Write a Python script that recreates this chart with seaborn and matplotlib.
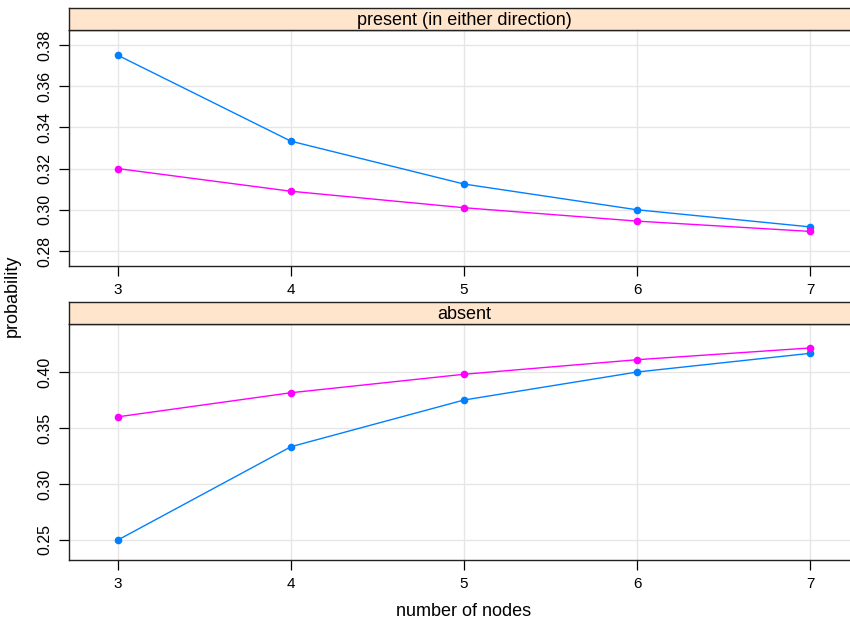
import numpy as np
import pandas as pd
import matplotlib
matplotlib.use("Agg")
import matplotlib.pyplot as plt
import seaborn as sns

sns.set_theme(style="white", rc={
    'xtick.bottom': True, 'ytick.left': True,
    'xtick.major.size': 7, 'ytick.major.size': 7,
    'xtick.major.width': 0.9, 'ytick.major.width': 0.9,
    'xtick.color': 'black', 'ytick.color': 'black',
    'text.color': 'black', 'axes.labelcolor': 'black',
})
plt.rcParams['font.family'] = ['Liberation Sans', 'DejaVu Sans']

# data
nodes = [3, 4, 5, 6, 7]
present_blue = [0.375, 0.3333, 0.3125, 0.300, 0.2917]
present_pink = [0.320, 0.309, 0.301, 0.2945, 0.2895]
absent_blue = [0.250, 0.3333, 0.375, 0.400, 0.4167]
absent_pink = [0.360, 0.3815, 0.398, 0.411, 0.4215]
series_names = ["A", "B"]
panel_titles = ["present (in either direction)", "absent"]

BLUE = "#0080ff"
PINK = "#ff00ff"
STRIP = "#ffe5cc"

def long_df(blue, pink):
    return pd.DataFrame({
        'nodes': nodes * 2,
        'probability': blue + pink,
        'series': [series_names[0]] * len(nodes) + [series_names[1]] * len(nodes),
    })

panels = [
    (long_df(present_blue, present_pink), (0.2727, 0.3873), [0.28, 0.30, 0.32, 0.34, 0.36, 0.38],
     ['0.28', '0.30', '0.32', '0.34', '0.36', '0.38']),
    (long_df(absent_blue, absent_pink), (0.2321, 0.4429), [0.25, 0.30, 0.35, 0.40],
     ['0.25', '0.30', '0.35', '0.40']),
]

fig = plt.figure(figsize=(8.5, 6.28), dpi=100)
W, H = 850, 628
left = 69 / W
width = 790 / W  # right edge runs past the figure, as in the reference
panel_px = [(30, 266, 8), (324, 560, 302)]

for (df, ylim, yticks, ylabels), title, (ptop, pbot, stop) in zip(panels, panel_titles, panel_px):
    ax = fig.add_axes([left, 1 - pbot / H, width, (pbot - ptop) / H])
    ax.grid(True, color="#e6e6e6", lw=1.0)
    ax.set_axisbelow(True)
    sns.lineplot(data=df, x='nodes', y='probability', hue='series',
                 palette=[BLUE, PINK], marker='o', markersize=5.5,
                 markeredgewidth=0, lw=1.0, legend=False, ax=ax)
    ax.set_xlim(2.717, 7.283)
    ax.set_ylim(*ylim)
    ax.set_xticks(nodes)
    ax.set_xticklabels([str(n) for n in nodes], fontsize=11)
    ax.set_yticks(yticks)
    ax.set_yticklabels(ylabels, fontsize=11.5, rotation=90, va='center')
    ax.tick_params(axis='both', which='major', direction='out', length=7,
                   width=0.9, color='black', labelcolor='black',
                   left=True, bottom=True, top=False, right=False, pad=5)
    ax.set_xlabel('')
    ax.set_ylabel('')
    for s in ax.spines.values():
        s.set_color('#222222')
        s.set_linewidth(1.0)

    # lattice-style strip above each panel
    sax = fig.add_axes([left, 1 - ptop / H, width, (ptop - stop) / H])
    sax.set_facecolor(STRIP)
    sax.tick_params(left=False, bottom=False, labelleft=False, labelbottom=False)
    for s in sax.spines.values():
        s.set_color('#222222')
        s.set_linewidth(1.0)
    sax.text(0.5, 0.42, title, transform=sax.transAxes,
             ha='center', va='center', fontsize=13, color='black')

fig.text(12 / W, 1 - 296 / H, 'probability', rotation=90, ha='center',
         va='center', fontsize=13)
fig.text(464 / W, 1 - 612 / H, 'number of nodes', ha='center', va='center',
         fontsize=13)

fig.savefig('out.png', dpi=100)
